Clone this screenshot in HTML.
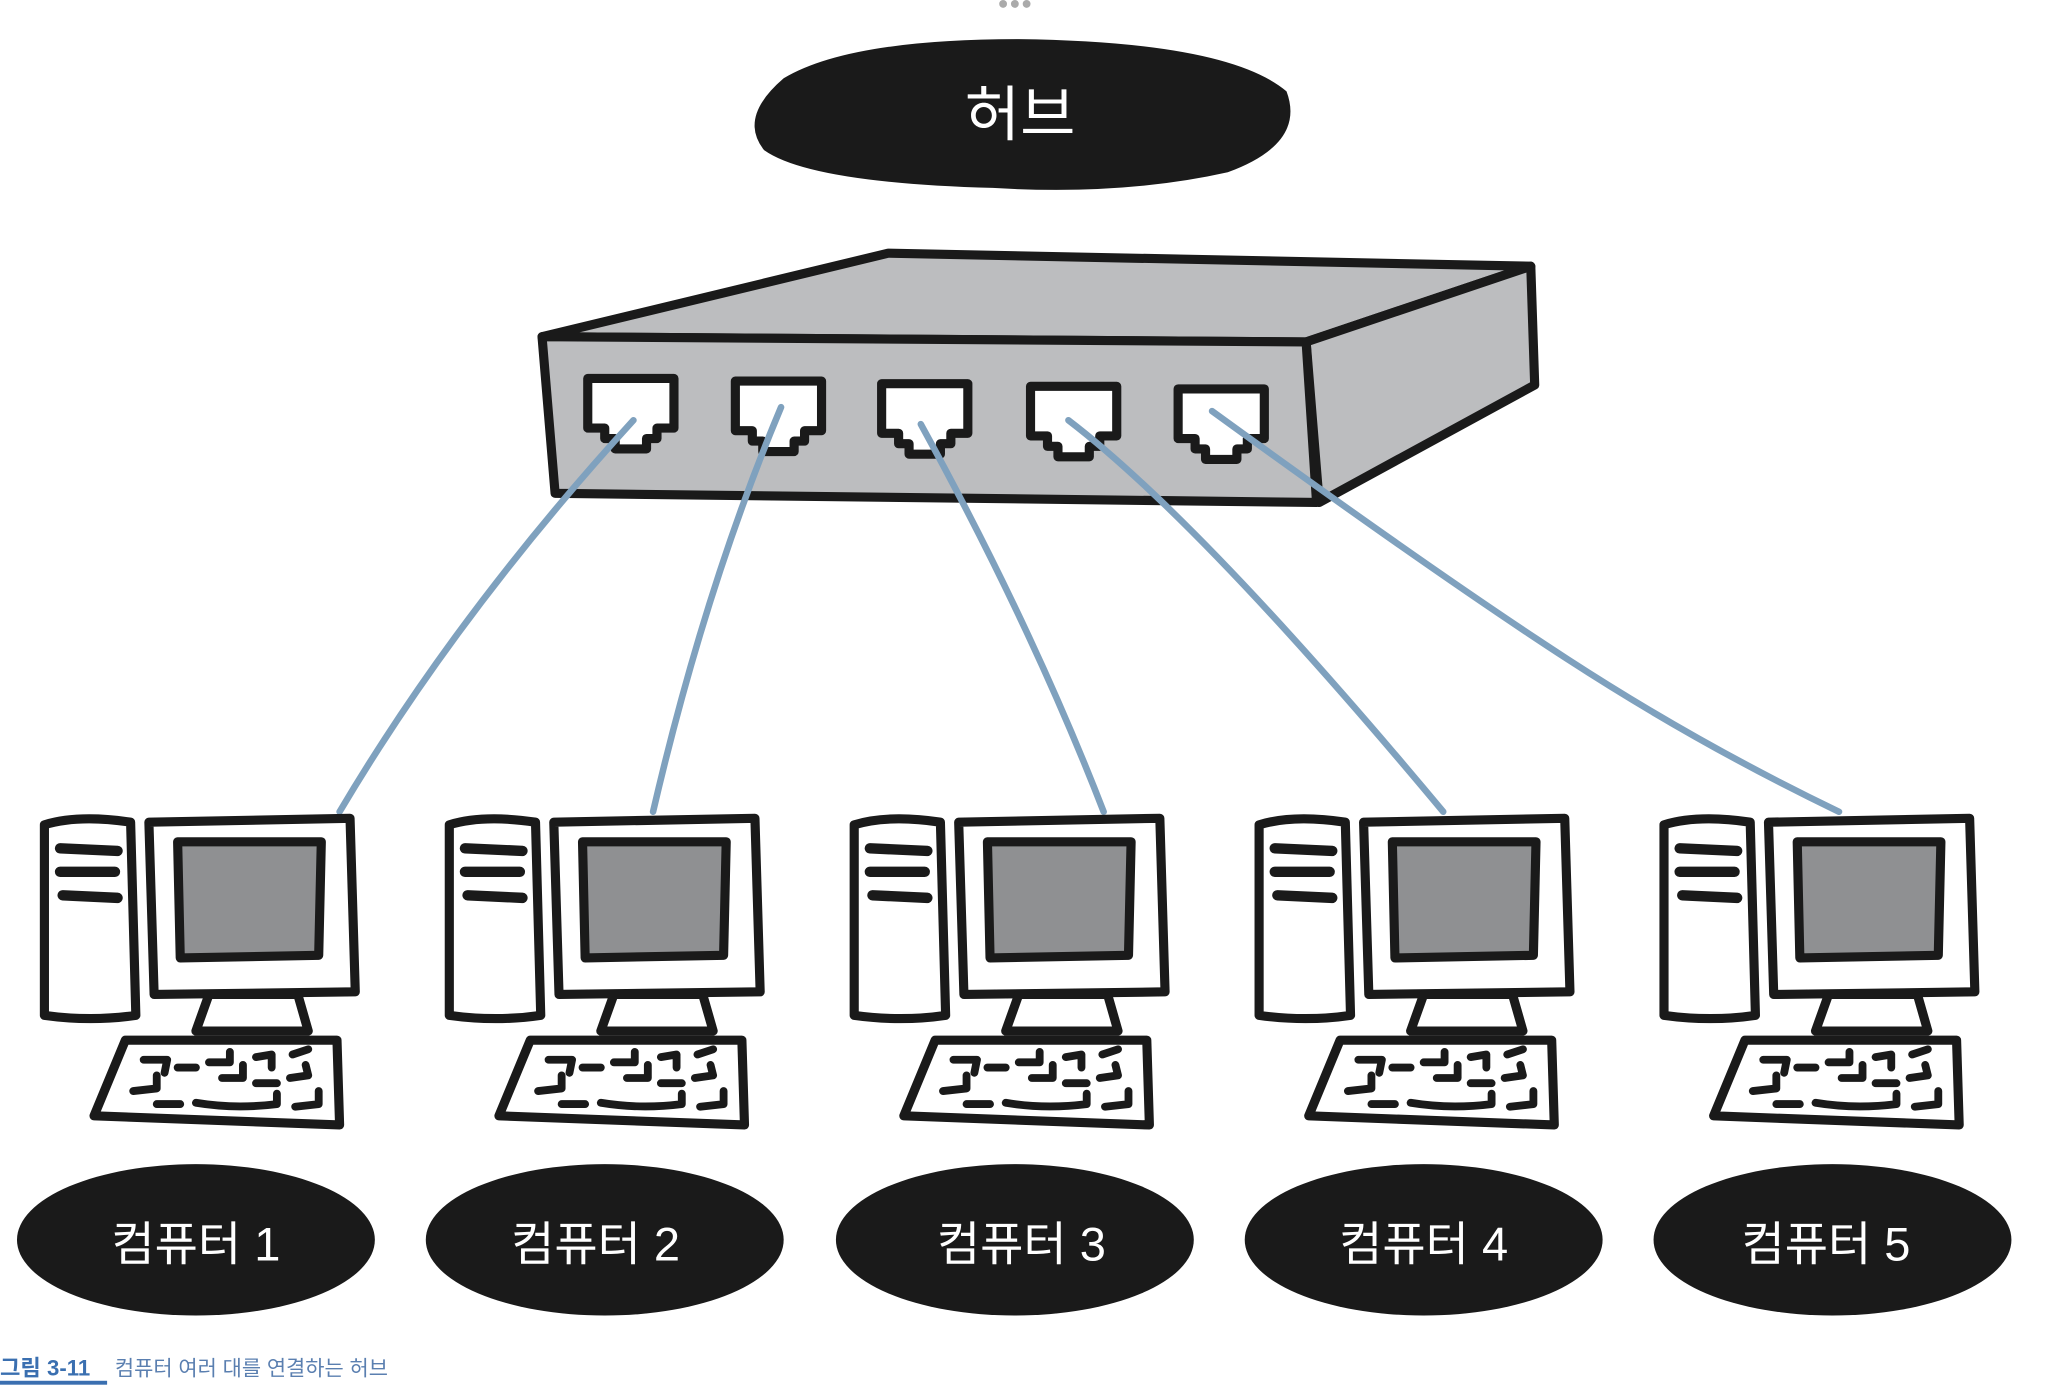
<!DOCTYPE html>
<html><head><meta charset="utf-8"><style>
html,body{margin:0;padding:0;background:#fff;width:2048px;height:1386px;overflow:hidden}
svg{display:block}
text{font-family:"Liberation Sans","Noto Sans CJK KR","NanumGothic",sans-serif}
</style></head><body>
<svg width="2048" height="1386" viewBox="0 0 1568 1062" preserveAspectRatio="none" xmlns="http://www.w3.org/2000/svg">
<defs>
<g id="port">
<path d="M-33,-28 L33,-28 L33,10 L20,10 L20,18 L12,18 L12,26 L-12,26 L-12,18 L-20,18 L-20,10 L-33,10 Z" fill="#fff" stroke="#1a1a1a" stroke-width="7" stroke-linejoin="round"/>
</g>
<g id="pc" stroke="#1a1a1a" stroke-width="7" stroke-linejoin="round" stroke-linecap="round">
<path d="M34,632 Q60,624 100,630 L104,778 Q70,783 34,778 Z" fill="#fff"/>
<path d="M46,650 L90,652 M46,668 L88,668 M48,686 L90,688" fill="none" stroke-width="8"/>
<path d="M114,630 L268,627 L272,760 L118,762 Z" fill="#fff"/>
<path d="M136,645 L246,645 L244,732 L138,734 Z" fill="#8f9092"/>
<path d="M160,762 L228,762 L236,790 L150,790 Z" fill="#fff"/>
<path d="M96,797 L258,797 L260,862 L72,855 Z" fill="#fff"/>
<path d="M110,812 L128,812 L126,822 M102,836 L120,834 L120,824 M136,818 L150,818 M120,846 L138,846 M150,845 Q180,850 212,846 L212,838 M160,814 L176,814 L176,806 M170,826 L186,826 L186,816 M196,810 L208,808 L208,818 M196,830 L212,830 M224,808 L236,804 M222,826 L236,824 L234,816 M226,848 L244,846 L244,836" fill="none" stroke-width="6"/>
</g>
</defs>
<circle cx="768" cy="3" r="3" fill="#aaa"/><circle cx="777" cy="3" r="3" fill="#aaa"/><circle cx="786" cy="3" r="3" fill="#aaa"/>
<path d="M600,60 Q650,30 780,30 Q940,32 985,70 Q1000,110 940,132 Q860,150 760,144 Q620,140 585,115 Q565,90 600,60 Z" fill="#1a1a1a"/>
<text x="781" y="104" font-size="46" fill="#fff" text-anchor="middle">허브</text>
<g stroke="#1a1a1a" stroke-width="7" stroke-linejoin="round">
<path d="M680,194 L1172,204 L1000,262 L415,258 Z" fill="#bcbdbf"/>
<path d="M1000,262 L1172,204 L1175,295 L1010,385 Z" fill="#bcbdbf"/>
<path d="M415,258 L1000,262 L1008,385 L425,378 Z" fill="#bcbdbf"/>
</g>
<use href="#port" x="483" y="318"/>
<use href="#port" x="596" y="320"/>
<use href="#port" x="708" y="322"/>
<use href="#port" x="822" y="324"/>
<use href="#port" x="935" y="326"/>
<g stroke="#7fa1be" stroke-width="5" fill="none" stroke-linecap="round">
<path d="M485,322 Q350,470 260,622"/>
<path d="M598,312 Q540,450 500,622"/>
<path d="M705,325 Q790,480 845,622"/>
<path d="M818,322 Q920,400 1105,622"/>
<path d="M928,315 Q1100,440 1200,505 Q1300,570 1408,622"/>
</g>
<use href="#pc" x="0"/>
<use href="#pc" x="310"/>
<use href="#pc" x="620"/>
<use href="#pc" x="930"/>
<use href="#pc" x="1240"/>
<g fill="#1a1a1a">
<ellipse cx="150" cy="950" rx="137" ry="58"/>
<ellipse cx="463" cy="950" rx="137" ry="58"/>
<ellipse cx="777" cy="950" rx="137" ry="58"/>
<ellipse cx="1090" cy="950" rx="137" ry="58"/>
<ellipse cx="1403" cy="950" rx="137" ry="58"/>
</g>
<g font-size="36" fill="#fff" text-anchor="middle">
<text x="150" y="966">컴퓨터 1</text>
<text x="456" y="966">컴퓨터 2</text>
<text x="782" y="966">컴퓨터 3</text>
<text x="1090" y="966">컴퓨터 4</text>
<text x="1398" y="966">컴퓨터 5</text>
</g>
<text x="0" y="1054" font-size="17" font-weight="bold" fill="#3a6fb0">그림 3-11</text>
<rect x="0" y="1058" width="82" height="3" fill="#3a6fb0"/>
<text x="88" y="1054" font-size="16" fill="#5a7fb0">컴퓨터 여러 대를 연결하는 허브</text>
</svg>
</body></html>
